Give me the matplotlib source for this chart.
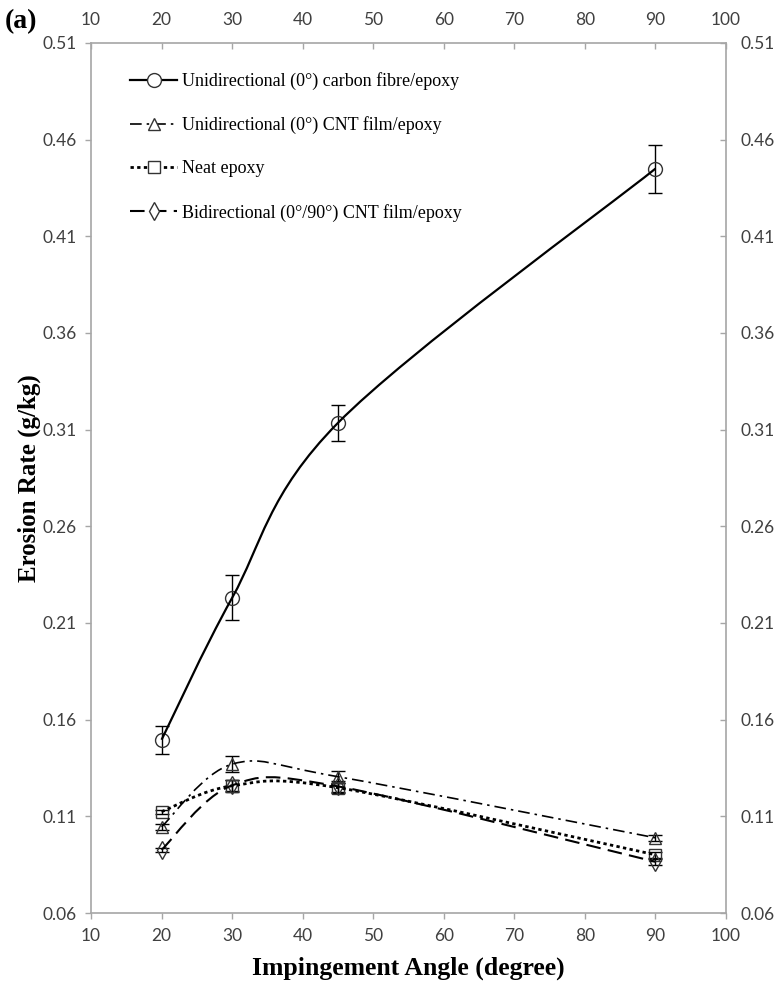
import numpy as np
import matplotlib
matplotlib.use("Agg")
import matplotlib.pyplot as plt
from matplotlib.path import Path
from matplotlib.patches import PathPatch
from matplotlib.lines import Line2D

angles = [20, 30, 45, 90]

cf_epoxy = [0.1496, 0.223, 0.3135, 0.445]
cf_err = [0.0073, 0.0116, 0.0092, 0.0124]

cnt_uni = [0.1046, 0.137, 0.1305, 0.0989]
cnt_uni_err = [0.0015, 0.004, 0.003, 0.0015]

neat = [0.1124, 0.1258, 0.1248, 0.0901]
neat_err = [0.001, 0.003, 0.0025, 0.0015]

cnt_bi = [0.0927, 0.126, 0.1255, 0.0865]
cnt_bi_err = [0.001, 0.003, 0.003, 0.0015]

labels = ["Unidirectional (0\u00b0) carbon fibre/epoxy",
          "Unidirectional (0\u00b0) CNT film/epoxy",
          "Neat epoxy",
          "Bidirectional (0\u00b0/90\u00b0) CNT film/epoxy"]

x_ticks = list(range(10, 101, 10))
y_ticks = [0.06, 0.11, 0.16, 0.21, 0.26, 0.31, 0.36, 0.41, 0.46, 0.51]

SERIF = "Liberation Serif"
SANS = "Lato"
GREY = "#a6a6a6"
TXT = "#404040"


def smooth_path(xs, ys):
    """Excel-like smoothed line: cubic Bezier segments through the points."""
    p = np.column_stack([xs, ys]).astype(float)
    n = len(p)
    verts = [p[0]]
    codes = [Path.MOVETO]
    for i in range(n - 1):
        prev = p[max(i - 1, 0)]
        nxt = p[min(i + 2, n - 1)]
        c1 = p[i] + (p[i + 1] - prev) / 6.0
        c2 = p[i + 1] - (nxt - p[i]) / 6.0
        verts += [c1, c2, p[i + 1]]
        codes += [Path.CURVE4] * 3
    return Path(verts, codes)


series = [
    (cf_epoxy, cf_err, "o", 10, "-", 1.6),
    (cnt_uni, cnt_uni_err, "^", 9, (0, (7, 3, 1.5, 3)), 1.2),
    (neat, neat_err, "s", 9, (0, (1.2, 1.2)), 2.0),
    (cnt_bi, cnt_bi_err, "d", 9, (0, (7, 3.5)), 1.5),
]

fig = plt.figure(figsize=(7.74, 9.83), dpi=100)
ax = fig.add_axes([0.1176, 0.0712, 0.8204, 0.8851])

handles = []
for (vals, err, mk, ms, ls, lw), lab in zip(series, labels):
    ax.errorbar(angles, vals, yerr=err, fmt="none", ecolor="black",
                elinewidth=1.0, capsize=5, capthick=1.0, zorder=3)
    ax.plot(angles, vals, linestyle="none", marker=mk, markersize=ms,
            markerfacecolor="none", markeredgecolor="#333333",
            markeredgewidth=1.0, zorder=4)
    ax.add_patch(PathPatch(smooth_path(angles, vals), facecolor="none",
                           edgecolor="black", linewidth=lw, linestyle=ls,
                           zorder=5))
    handles.append(Line2D([], [], color="black", linewidth=lw, linestyle=ls,
                          marker=mk, markersize=ms, markerfacecolor="white",
                          markeredgecolor="#333333", markeredgewidth=1.0))

ax.set_xlim(10, 100)
ax.set_ylim(0.06, 0.51)
ax.set_xticks(x_ticks)
ax.set_yticks(y_ticks)
ax.set_yticklabels([f"{v:.2f}" for v in y_ticks])

for s in ax.spines.values():
    s.set_color(GREY)
    s.set_linewidth(1.2)

ax.tick_params(axis="both", which="both", colors=GREY, labelcolor=TXT,
               labelsize=12.5, length=4, width=1.0)
ax.tick_params(axis="x", top=True, labeltop=True, direction="in", pad=11)
ax.tick_params(axis="y", right=True, labelright=True, direction="out", pad=6.5)
for lab in ax.get_xticklabels() + ax.get_yticklabels():
    lab.set_family(SANS)

# right ticks point inward, bottom ticks outward
for t in ax.yaxis.get_major_ticks():
    t.tick2line.set_marker(matplotlib.lines.TICKLEFT)
for t in ax.xaxis.get_major_ticks():
    t.tick1line.set_marker(matplotlib.lines.TICKDOWN)

ax.set_xlabel("Impingement Angle (degree)", family=SERIF, fontsize=18.5,
              fontweight="bold", labelpad=9)
ax.set_ylabel("Erosion Rate (g/kg)", family=SERIF, fontsize=18,
              fontweight="bold", labelpad=1)

ax.legend(handles, labels, loc="upper left", bbox_to_anchor=(0.036, 0.985),
          frameon=False, prop={"family": SERIF, "size": 13},
          handlelength=2.6, handletextpad=0.3, labelspacing=1.45)

fig.text(0.006, 0.978, "(a)", family=SERIF, fontsize=20, fontweight="bold",
         va="center", ha="left")

fig.savefig("out.png", dpi=100, facecolor="white")
